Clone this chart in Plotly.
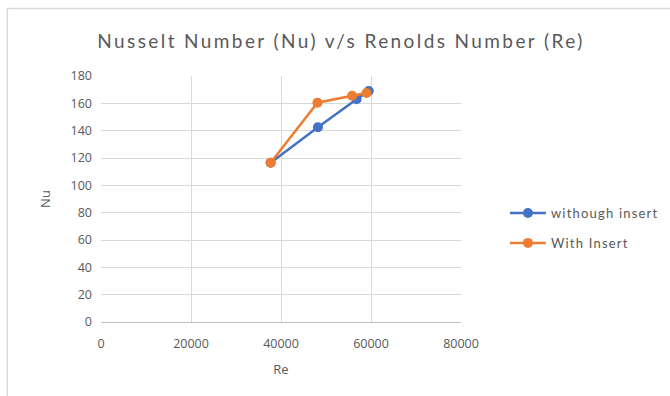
import plotly.graph_objects as go

re_without = [37700, 48200, 56800, 59500]
nu_without = [116.5, 142.5, 163, 169]
re_with = [37700, 48100, 55800, 59000]
nu_with = [116.5, 160.5, 165.5, 167.5]

x_ticks = [0, 20000, 40000, 60000, 80000]
y_ticks = [0, 20, 40, 60, 80, 100, 120, 140, 160, 180]

FONT = "Open Sans"
TITLE_FONT = "Lato"
LEG_FONT = "Lato"
GREY = "#595959"

fig = go.Figure()
fig.add_trace(go.Scatter(x=re_without, y=nu_without, mode="lines+markers",
                         name="withough insert", legendgroup="a",
                         line=dict(color="#4472C4", width=2.5),
                         marker=dict(color="#4472C4", size=10)))
fig.add_trace(go.Scatter(x=re_with, y=nu_with, mode="lines+markers",
                         name="With Insert", legendgroup="b",
                         line=dict(color="#ED7D31", width=2.5),
                         marker=dict(color="#ED7D31", size=10)))

L, R, T, B = 100.7, 209.3, 76, 74
fig.update_layout(
    width=670, height=396,
    margin=dict(l=L, r=R, t=T, b=B),
    paper_bgcolor="white", plot_bgcolor="white",
    font=dict(family=FONT, color=GREY, size=12.5),
    title=dict(text="Nusselt Number (Nu) v/s Renolds Number (Re)",
               x=341/670, xanchor="center", y=1 - 41/396, yanchor="middle",
               font=dict(family=TITLE_FONT, size=19, color=GREY)),
    xaxis=dict(range=[0, 80000], tickvals=x_ticks, ticktext=[str(v) for v in x_ticks],
               showgrid=True, gridcolor="#d9d9d9", gridwidth=1,
               zeroline=False, showline=True, linecolor="#bfbfbf", linewidth=1,
               ticks="", ticklen=0, ticklabelstandoff=10,
               title=dict(text="Re", font=dict(size=13, color=GREY), standoff=13)),
    yaxis=dict(range=[0, 180], tickvals=y_ticks,
               showgrid=True, gridcolor="#d9d9d9", gridwidth=1,
               zeroline=False, showline=False, ticks="", ticklabelstandoff=8,
               title=dict(text="Nu", font=dict(size=13, color=GREY), standoff=16)),
    legend=dict(x=1.122, xanchor="left", y=0.382, yanchor="middle",
                font=dict(family=LEG_FONT, size=13, color=GREY),
                bgcolor="rgba(0,0,0,0)", tracegroupgap=10, itemwidth=36),
    showlegend=True,
)

# chart outer border (cropped: visible on top and left)
w_plot = 670 - L - R
h_plot = 396 - T - B
def px_x(p):
    return (p - L) / w_plot
def px_y(p):
    return (396 - B - p) / h_plot
fig.add_shape(type="line", xref="paper", yref="paper",
              x0=px_x(7), x1=px_x(7), y0=px_y(400), y1=px_y(8.5),
              line=dict(color="#d9d9d9", width=1.5))
fig.add_shape(type="line", xref="paper", yref="paper",
              x0=px_x(7), x1=px_x(680), y0=px_y(8.5), y1=px_y(8.5),
              line=dict(color="#d9d9d9", width=1.5))

post = """
document.body.style.margin='0';
document.querySelectorAll('.gtitle').forEach(function(t){t.style.letterSpacing='2.4px';});
document.querySelectorAll('.legendtext').forEach(function(t){t.style.letterSpacing='1.2px';});
document.querySelectorAll('.legend [clip-path]').forEach(function(e){e.removeAttribute('clip-path');});
"""
fig.write_html("out.html", config={"displayModeBar": False}, post_script=post)
